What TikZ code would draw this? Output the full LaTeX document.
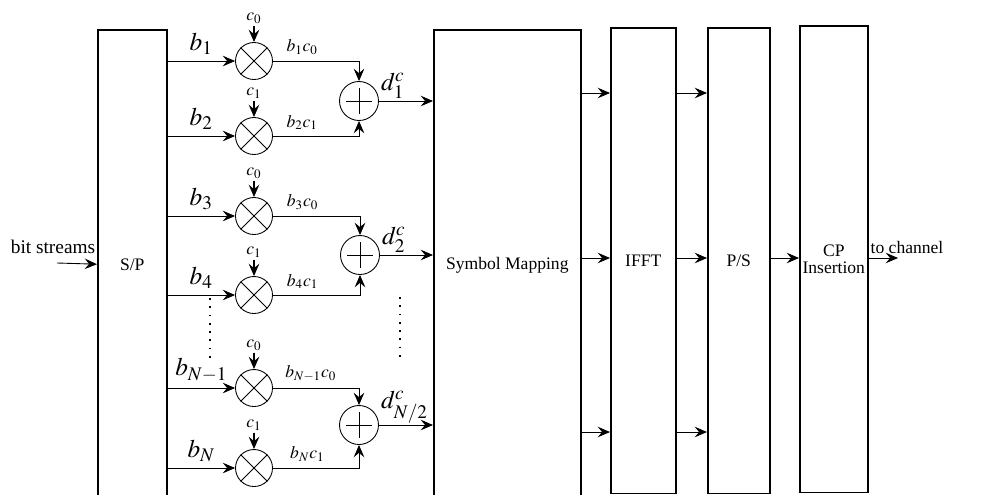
\documentclass[tikz,border=0pt]{standalone}
\usepackage{mathptmx}
\usepackage[no-math]{fontspec}
\setmainfont{Liberation Serif}
\usetikzlibrary{positioning, arrows.meta}

\tikzset{
  block/.style={draw, line width=0.9pt, anchor=north west, inner sep=0pt, align=center, minimum height=9.42cm},
  mult/.style={draw, circle, minimum size=0.74cm, inner sep=0pt},
  adder/.style={draw, circle, minimum size=0.78cm, inner sep=0pt},
  clab/.style={inner sep=1pt},
  blab/.style={above, font=\Large},
  dlab/.style={above right, pos=0, inner sep=1pt, font=\Large},
  dots/.style={line width=1.1pt, dash pattern=on 1.1pt off 3.6pt}
}

\begin{document}
\begin{tikzpicture}[x=0.02cm, y=-0.02cm, line width=0.5pt, font=\fontsize{10}{11}\selectfont,
    >={Stealth[length=7pt, width=6pt, inset=2.5pt]}]
            \useasboundingbox (0,0) rectangle (1000,494);

            % blocks
            \node[block, minimum width=1.38cm] (sp) at (97,29) {S/P};
            \node[block, minimum width=2.94cm] (sm) at (433,29) {Symbol Mapping};
            \node[block, minimum width=1.3cm, minimum height=9.32cm] (ifft) at (610,27) {IFFT};
            \node[block, minimum width=1.24cm, minimum height=9.32cm] (ps) at (707,27) {P/S};
            \node[block, minimum width=1.36cm, minimum height=9.34cm] (cp) at (799,25) {CP\\[-1pt]Insertion};

            % spreading
            \node[mult] (m1) at (254,61) {};
            \node[mult] (m2) at (254,136) {};
            \node[mult] (m3) at (254,216) {};
            \node[mult] (m4) at (254,295) {};
            \node[mult] (m5) at (254,388) {};
            \node[mult] (m6) at (254,468) {};
            \foreach \m in {m1,m2,m3,m4,m5,m6}
              \draw (\m.north west) -- (\m.south east) (\m.north east) -- (\m.south west);

            \node[clab, above=0.33cm of m1] (c1) {$c_0$};
            \node[clab, above=0.33cm of m2] (c2) {$c_1$};
            \node[clab, above=0.33cm of m3] (c3) {$c_0$};
            \node[clab, above=0.33cm of m4] (c4) {$c_1$};
            \node[clab, above=0.33cm of m5] (c5) {$c_0$};
            \node[clab, above=0.33cm of m6] (c6) {$c_1$};

            \node[adder] (a1) at (359,101) {};
            \node[adder] (a2) at (360,255) {};
            \node[adder] (a3) at (359,425) {};
            \foreach \a in {a1,a2,a3}
              \draw (\a.center) +(-13,0) -- +(13,0) +(0,-13) -- +(0,13);

            \coordinate (bits) at (57,263);
            \coordinate (out) at (898,258);
            \coordinate (r1) at (0,93);
            \coordinate (r2) at (0,258);
            \coordinate (r3) at (0,432);

            \node[font=\fontsize{11}{12}\selectfont] (bitlab) at (53,247) {bit streams};
            \node (outlab) at (907,247) {to channel};

            \path[->]
            (bits) edge (sp)
            (sp.east |- m1) edge node[blab] {$b_1$} (m1)
            (sp.east |- m2) edge node[blab] {$b_2$} (m2)
            (sp.east |- m3) edge node[blab] {$b_3$} (m3)
            (sp.east |- m4) edge node[blab] {$b_4$} (m4)
            (sp.east |- m5) edge node[blab] {$b_{N-1}$} (m5)
            (sp.east |- m6) edge node[blab] {$b_N$} (m6)
            (a1) edge node[dlab] {$d^c_1$} (a1 -| sm.west)
            (a2) edge node[dlab] {$d^c_2$} (a2 -| sm.west)
            (a3) edge node[dlab] {$d^c_{N/2}$} (a3 -| sm.west)
            (sm.east |- r1) edge (ifft.west |- r1)
            (sm.east |- r2) edge (ifft.west |- r2)
            (sm.east |- r3) edge (ifft.west |- r3)
            (ifft.east |- r1) edge (ps.west |- r1)
            (ifft.east |- r2) edge (ps.west |- r2)
            (ifft.east |- r3) edge (ps.west |- r3)
            (ps.east |- r2) edge (cp.west |- r2)
            (cp.east |- r2) edge (out);

            \path[->, line width=0.9pt]
            (c1) edge (m1)
            (c2) edge (m2)
            (c3) edge (m3)
            (c4) edge (m4)
            (c5) edge (m5)
            (c6) edge (m6);

            \draw[->] (m1) -| node[above, pos=0.17] {$b_1c_0$} (a1);
            \draw[->] (m2) -| node[above, pos=0.17] {$b_2c_1$} (a1);
            \draw[->] (m3) -| node[above, pos=0.17] {$b_3c_0$} (a2);
            \draw[->] (m4) -| node[above, pos=0.17] {$b_4c_1$} (a2);
            \draw[->] (m5) -| node[above, pos=0.22] {$b_{N-1}c_0$} (a3);
            \draw[->] (m6) -| node[above, pos=0.2] {$b_Nc_1$} (a3);

            \draw[dots] (210,298) -- (210,363);
            \draw[dots] (400,297) -- (400,363);
        \end{tikzpicture}
\end{document}
